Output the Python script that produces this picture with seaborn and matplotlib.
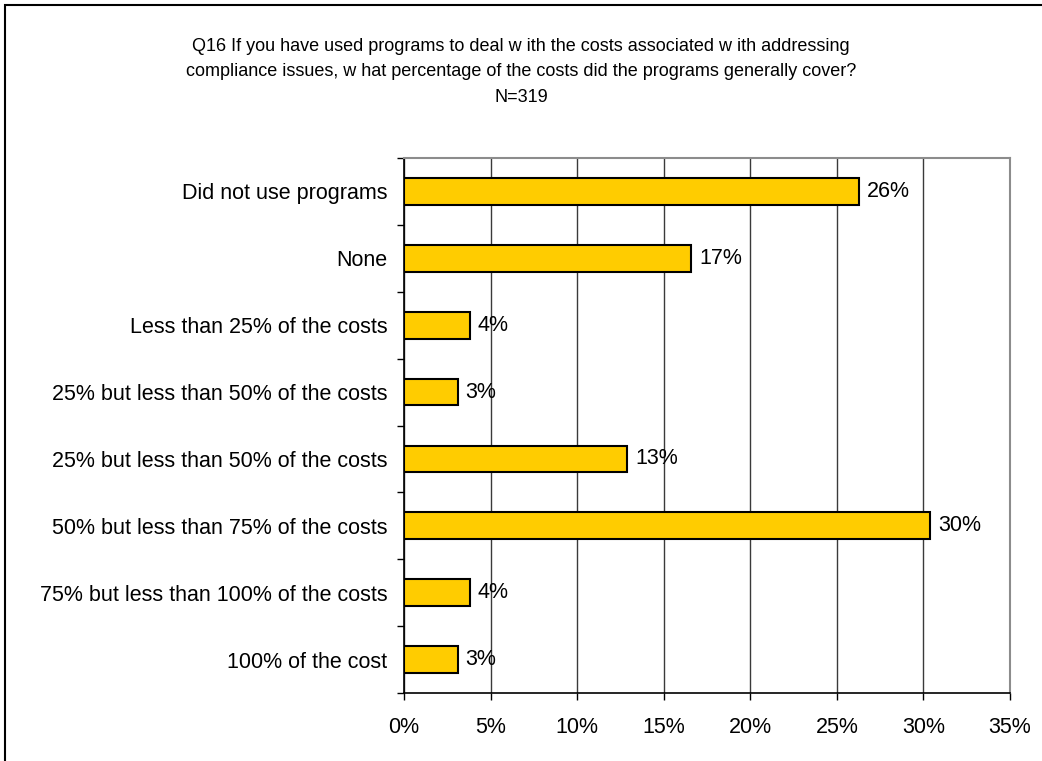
import matplotlib
matplotlib.use("Agg")
import matplotlib.pyplot as plt
from matplotlib.patches import Rectangle
from matplotlib.ticker import FuncFormatter, MultipleLocator, FixedLocator
import numpy as np
import pandas as pd
import seaborn as sns

# Survey responses (share of N=319)
categories = [
    "Did not use programs",
    "None",
    "Less than 25% of the costs",
    "25% but less than 50% of the costs",
    "25% but less than 50% of the costs",
    "50% but less than 75% of the costs",
    "75% but less than 100% of the costs",
    "100% of the cost",
]
shares = [26.3, 16.6, 3.8, 3.1, 12.9, 30.4, 3.8, 3.1]

title_lines = [
    "Q16 If you have used programs to deal w ith the costs associated w ith addressing",
    "compliance issues, w hat percentage of the costs did the programs generally cover?",
    "N=319",
]

sns.set_theme(style="white")
plt.rcParams["font.family"] = ["Liberation Sans", "DejaVu Sans"]

# Each row gets its own key so repeated answer texts stay separate bars
df = pd.DataFrame({
    "row": [str(i) for i in range(len(categories))],
    "label": categories,
    "share": shares,
})

fig = plt.figure(figsize=(10.42, 7.61), dpi=100)
ax = fig.add_axes([404 / 1042, 1 - 693 / 761, (1010 - 404) / 1042, (693 - 158) / 761])

sns.barplot(
    data=df, x="share", y="row", orient="h", ax=ax,
    color="#FFCC00", saturation=1, width=0.4,
    edgecolor="black", linewidth=1.5, zorder=3,
)

ax.set_xlim(0, 35)
ax.set_ylim(len(categories) - 0.5, -0.5)
ax.xaxis.set_major_locator(MultipleLocator(5))
ax.xaxis.set_major_formatter(FuncFormatter(lambda v, _: f"{v:.0f}%"))
ax.grid(axis="x", color="#3a3a3a", linewidth=1.0, zorder=0)
ax.grid(axis="y", visible=False)
ax.set_axisbelow(True)

ax.set_yticks(range(len(categories)))
ax.set_yticklabels(categories)
ax.yaxis.set_minor_locator(FixedLocator(np.arange(-0.5, len(categories), 1.0)))
ax.tick_params(axis="y", which="major", length=0, pad=12, labelsize=15.5, colors="black")
ax.tick_params(axis="y", which="minor", left=True, length=5, width=1, color="black")
ax.tick_params(axis="x", which="major", bottom=True, length=5, width=1, color="black",
               labelsize=15.5, pad=12, labelcolor="black")
ax.set_xlabel("")
ax.set_ylabel("")

for side in ("left", "bottom"):
    ax.spines[side].set_color("black")
    ax.spines[side].set_linewidth(1.2)
for side in ("top", "right"):
    ax.spines[side].set_visible(True)
    ax.spines[side].set_color("#8c8c8c")
    ax.spines[side].set_linewidth(1.5)

for i, v in enumerate(shares):
    ax.text(v + 0.45, i, f"{v:.0f}%", va="center", ha="left", fontsize=15.5,
            color="black", zorder=4)

fig.text(0.5, 1 - 72 / 761, "\n".join(title_lines), ha="center", va="center",
         fontsize=13, linespacing=1.62, color="black")

# Frame around the chart area
fig.patches.append(Rectangle((5 / 1042, -0.05), 1.2, 1 - 5 / 761 + 0.05,
                             transform=fig.transFigure, fill=False,
                             edgecolor="black", linewidth=1.5))

fig.savefig("out.png", dpi=100, facecolor="white")
